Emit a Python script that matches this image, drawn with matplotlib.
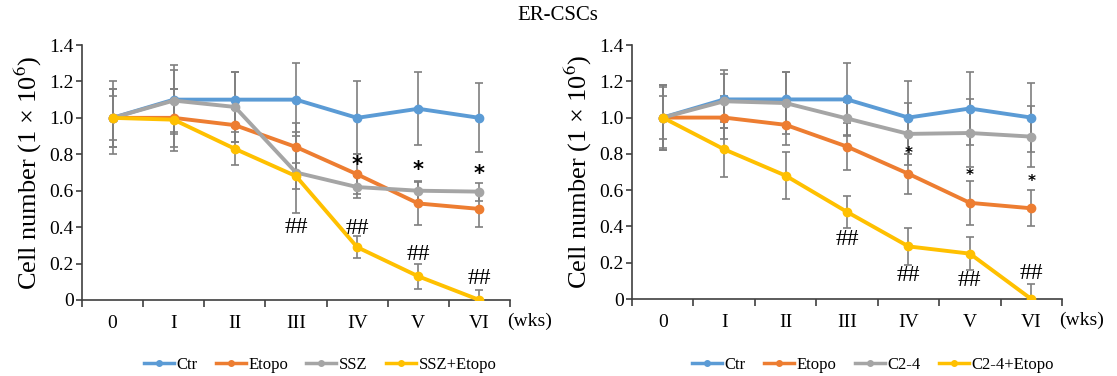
import matplotlib
matplotlib.use("Agg")
import matplotlib.pyplot as plt
import numpy as np

plt.rcParams['font.family'] = ['Liberation Serif', 'DejaVu Serif']
plt.rcParams['mathtext.fontset'] = 'stix'

categories = ["0", "I", "II", "III", "IV", "V", "VI"]

# Left panel (SSZ)
L_ctr = [1.0, 1.10, 1.10, 1.10, 1.00, 1.05, 1.00]
L_etopo = [1.0, 1.00, 0.96, 0.84, 0.69, 0.53, 0.50]
L_ssz = [1.0, 1.095, 1.06, 0.70, 0.62, 0.60, 0.595]
L_ssz_etopo = [1.0, 0.99, 0.83, 0.68, 0.29, 0.13, 0.0]
L_ctr_err = [0.20, 0.19, 0.15, 0.20, 0.20, 0.20, 0.19]
L_etopo_err = [0.12, 0.16, 0.09, 0.13, 0.11, 0.12, 0.10]
L_ssz_err = [0.16, 0.17, 0.19, 0.22, 0.06, 0.055, 0.05]
L_ssz_etopo_err = [0.16, 0.17, 0.09, 0.07, 0.06, 0.07, 0.055]
L_star_y = [None, None, None, None, 0.74, 0.715, 0.69]
L_hash_y = [None, None, None, 0.40, 0.39, 0.25, 0.12]

# Right panel (C2-4)
R_ctr = [1.0, 1.10, 1.10, 1.10, 1.00, 1.05, 1.00]
R_etopo = [1.0, 1.00, 0.96, 0.84, 0.69, 0.53, 0.50]
R_c24 = [1.0, 1.09, 1.08, 0.995, 0.91, 0.915, 0.895]
R_c24_etopo = [1.0, 0.825, 0.68, 0.48, 0.29, 0.25, 0.0]
R_ctr_err = [0.18, 0.16, 0.15, 0.20, 0.20, 0.20, 0.19]
R_etopo_err = [0.12, 0.12, 0.11, 0.13, 0.11, 0.12, 0.10]
R_c24_err = [0.17, 0.15, 0.17, 0.09, 0.17, 0.19, 0.17]
R_c24_etopo_err = [0.18, 0.15, 0.13, 0.09, 0.10, 0.09, 0.08]
R_star_y = [None, None, None, None, 0.80, 0.68, 0.645]
R_hash_y = [None, None, None, 0.33, 0.13, 0.10, 0.14]

colors = ["#5B9BD5", "#ED7D31", "#A5A5A5", "#FFC000"]
err_color = "#7F7F7F"

fig = plt.figure(figsize=(11.17, 3.76), dpi=100)
W, H = 1117, 376


def panel(x0, x1, y_top, y_bot, series, errs, labels, star_y, hash_y, star_size, legend_cx):
    ax = fig.add_axes([x0 / W, 1 - y_bot / H, (x1 - x0) / W, (y_bot - y_top) / H])
    x = np.arange(len(categories))
    for vals, e, c in zip(series, errs, colors):
        ax.errorbar(x, vals, yerr=e, fmt='none', ecolor=err_color, elinewidth=1.2,
                    capsize=3, capthick=1.2, zorder=2)
    handles = []
    for vals, c, lab in zip(series, colors, labels):
        h, = ax.plot(x, vals, color=c, lw=2.8, marker='o', ms=6, label=lab, zorder=3)
        handles.append(h)
    for i, sy in enumerate(star_y):
        if sy is not None:
            ax.text(i, sy, "*", ha='center', va='center', fontsize=star_size,
                    fontweight='bold', family='DejaVu Sans', zorder=4)
    for i, hy in enumerate(hash_y):
        if hy is not None:
            ax.text(i, hy, "##", ha='center', va='center', fontsize=17, zorder=4)
    ax.set_xlim(-0.5, 6.5)
    ax.set_ylim(0, 1.4)
    ax.set_yticks(np.arange(0, 1.41, 0.2))
    ax.set_yticklabels(["0"] + [f"{v:.1f}" for v in np.arange(0.2, 1.41, 0.2)], fontsize=14)
    ax.set_xticks(np.arange(-0.5, 6.6, 1.0))
    ax.set_xticklabels([])
    ax.set_xticks(x, minor=True)
    ax.set_xticklabels(categories, minor=True, fontsize=14)
    ax.tick_params(axis='x', which='major', length=5, width=1.2, color='#404040', direction='out')
    ax.tick_params(axis='x', which='minor', length=0, pad=11)
    ax.tick_params(axis='y', length=4, width=1.2, color='#404040', direction='out', pad=2)
    for s in ['top', 'right']:
        ax.spines[s].set_visible(False)
    for s in ['left', 'bottom']:
        ax.spines[s].set_color('#404040')
        ax.spines[s].set_linewidth(1.2)
    ax.set_ylabel("Cell number (1 \u00d7 10$^{6}$)", fontsize=19, labelpad=4)
    ax.text(6.45, -0.115, "(wks)", transform=ax.transData, ha='left', va='center',
            fontsize=14, clip_on=False)
    fig.legend(handles=handles, labels=labels, loc='center', ncol=4,
               bbox_to_anchor=(legend_cx / W, 1 - 365 / H), frameon=False,
               fontsize=12, handlelength=1.8, handletextpad=0.15, columnspacing=1.1,
               borderaxespad=0)
    for lh in fig.legends[-1].get_lines():
        lh.set_linewidth(2.5)
        lh.set_markersize(4)
    return ax


panel(82, 510, 45, 300,
      [L_ctr, L_etopo, L_ssz, L_ssz_etopo],
      [L_ctr_err, L_etopo_err, L_ssz_err, L_ssz_etopo_err],
      ["Ctr", "Etopo", "SSZ", "SSZ+Etopo"], L_star_y, L_hash_y, 15, 320)
panel(632, 1062, 45, 299,
      [R_ctr, R_etopo, R_c24, R_c24_etopo],
      [R_ctr_err, R_etopo_err, R_c24_err, R_c24_etopo_err],
      ["Ctr", "Etopo", "C2-4", "C2-4+Etopo"], R_star_y, R_hash_y, 11, 873)

fig.text(558 / W, 1 - 15 / H, "ER-CSCs", ha='center', va='center', fontsize=15)

fig.savefig("out.png", dpi=100)
